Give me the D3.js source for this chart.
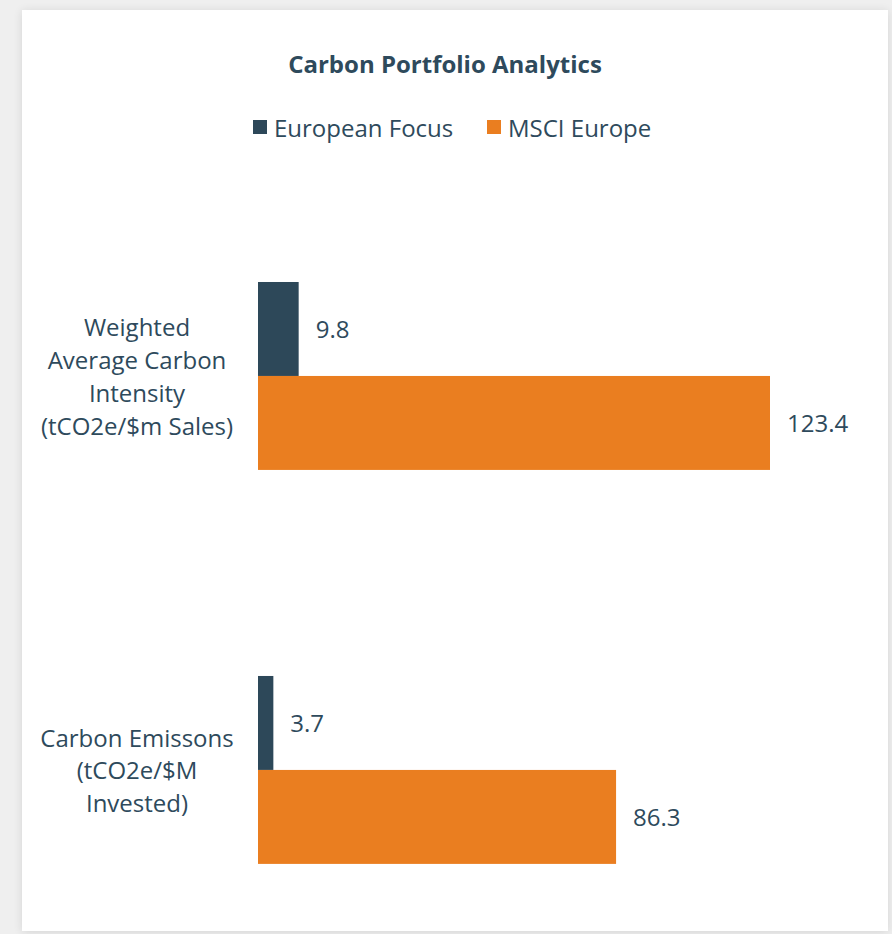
<!DOCTYPE html>
<html>
<head>
<meta charset="utf-8">
<script src="https://cdn.jsdelivr.net/npm/d3@7"></script>
<style>
  html, body { margin: 0; padding: 0; background: #efefef; }
  svg { display: block; }
  text { font-family: "Open Sans", sans-serif; }
</style>
</head>
<body>
<svg id="chart" width="892" height="934"></svg>
<script>
const title = "Carbon Portfolio Analytics";
const categories = ["Weighted Average Carbon Intensity (tCO2e/$m Sales)", "Carbon Emissons (tCO2e/$M Invested)"];
const categoryLines = [
  ["Weighted", "Average Carbon", "Intensity", "(tCO2e/$m Sales)"],
  ["Carbon Emissons", "(tCO2e/$M", "Invested)"]
];
const seriesNames = ["European Focus", "MSCI Europe"];
const europeanFocus = [9.8, 3.7];
const msciEurope = [123.4, 86.3];
const seriesColors = ["#2d4859", "#ea7e20"];

const textColor = "#2e4a5c";
const fs = 24;
const svg = d3.select("#chart");

const defs = svg.append("defs");
const f = defs.append("filter").attr("id", "shadow").attr("x", "-5%").attr("y", "-5%").attr("width", "110%").attr("height", "110%");
f.append("feGaussianBlur").attr("in", "SourceAlpha").attr("stdDeviation", 5);
f.append("feOffset").attr("dx", 0).attr("dy", 1).attr("result", "b");
f.append("feComponentTransfer").append("feFuncA").attr("type", "linear").attr("slope", 0.12);
const m = f.append("feMerge");
m.append("feMergeNode");
m.append("feMergeNode").attr("in", "SourceGraphic");

svg.append("rect").attr("x", 22).attr("y", 10).attr("width", 866).attr("height", 921)
  .attr("fill", "#ffffff").attr("filter", "url(#shadow)");

svg.append("text").attr("x", 445).attr("y", 63).attr("text-anchor", "middle")
  .attr("dominant-baseline", "central").attr("font-size", 24).attr("font-weight", 700)
  .attr("fill", textColor).text(title);

// legend
const legendX = [253, 487];
seriesNames.forEach((name, i) => {
  const g = svg.append("g").attr("transform", `translate(${legendX[i]},127)`);
  g.append("rect").attr("x", 0).attr("y", -7).attr("width", 14).attr("height", 14).attr("fill", seriesColors[i]);
  g.append("text").attr("x", 21).attr("y", 0).attr("dominant-baseline", "central")
    .attr("font-size", fs).attr("fill", textColor).text(name);
});

const x0 = 258;
const x = d3.scaleLinear().domain([0, 123.4]).range([x0, 770]);
const y = d3.scaleBand().domain(categories).range([203.2, 942.7]).paddingInner(0.523).paddingOuter(0.2);
const ySub = d3.scaleBand().domain(seriesNames).range([0, y.bandwidth()]).padding(0);

const data = categories.map((c, i) => ({ cat: c, vals: [europeanFocus[i], msciEurope[i]] }));

const groups = svg.selectAll("g.cat").data(data).join("g").attr("class", "cat")
  .attr("transform", d => `translate(0,${y(d.cat)})`);

groups.selectAll("rect").data(d => d.vals.map((v, j) => ({ v, s: seriesNames[j], j })))
  .join("rect")
  .attr("x", x(0)).attr("y", d => ySub(d.s))
  .attr("width", d => x(d.v) - x(0)).attr("height", ySub.bandwidth())
  .attr("fill", d => seriesColors[d.j]);

groups.selectAll("text.val").data(d => d.vals.map((v, j) => ({ v, s: seriesNames[j] })))
  .join("text").attr("class", "val")
  .attr("x", d => x(d.v) + 17).attr("y", d => ySub(d.s) + ySub.bandwidth() / 2)
  .attr("dominant-baseline", "central").attr("font-size", fs).attr("fill", textColor)
  .text(d => d3.format(".1f")(d.v));

// category axis
const axis = svg.append("g").attr("transform", `translate(${x0},0)`)
  .call(d3.axisLeft(y).tickSize(0).tickPadding(0));
axis.select(".domain").remove();
axis.selectAll(".tick text").each(function(d, i) {
  const t = d3.select(this);
  const lines = categoryLines[i];
  const lh = 32.7;
  t.text(null).attr("x", -121).attr("text-anchor", "middle").attr("dy", null)
    .attr("font-size", fs).attr("fill", textColor).attr("font-family", "Open Sans, sans-serif");
  lines.forEach((ln, k) => {
    t.append("tspan").attr("x", -121)
      .attr("y", (k - (lines.length - 1) / 2) * lh)
      .attr("dominant-baseline", "central").text(ln);
  });
});
</script>
</body>
</html>
